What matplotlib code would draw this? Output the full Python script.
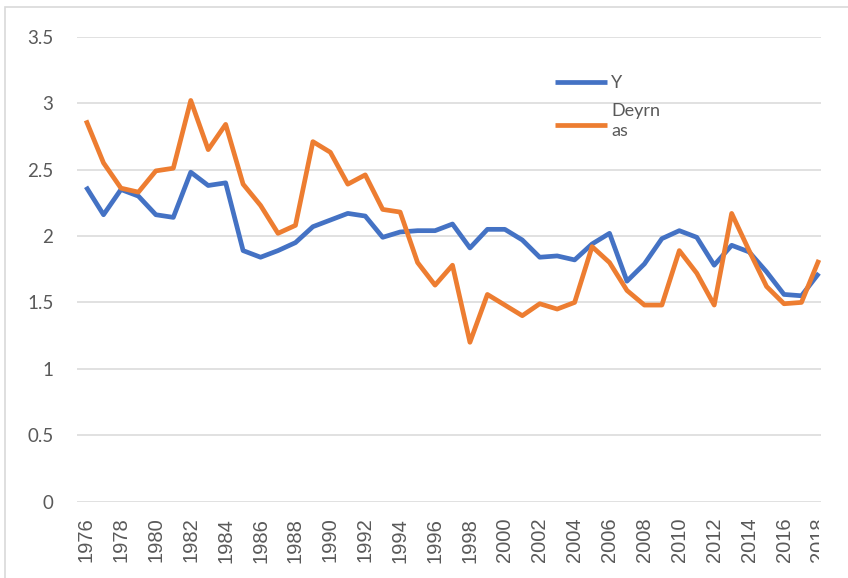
import matplotlib
matplotlib.use("Agg")
import matplotlib.pyplot as plt
import numpy as np
from matplotlib.patches import Rectangle
from matplotlib.transforms import Bbox, TransformedBbox
from matplotlib.legend_handler import HandlerLine2D

# data
years = list(range(1976, 2019))
y_vals = [2.37, 2.16, 2.35, 2.30, 2.16, 2.14, 2.48, 2.38, 2.40, 1.89,
          1.84, 1.89, 1.95, 2.07, 2.12, 2.17, 2.15, 1.99, 2.03, 2.04,
          2.04, 2.09, 1.91, 2.05, 2.05, 1.97, 1.84, 1.85, 1.82, 1.94,
          2.02, 1.66, 1.79, 1.98, 2.04, 1.99, 1.78, 1.93, 1.88, 1.73,
          1.56, 1.55, 1.72]
deyrnas_vals = [2.87, 2.55, 2.36, 2.33, 2.49, 2.51, 3.02, 2.65, 2.84, 2.39,
                2.23, 2.02, 2.08, 2.71, 2.63, 2.39, 2.46, 2.20, 2.18, 1.80,
                1.63, 1.78, 1.20, 1.56, 1.48, 1.40, 1.49, 1.45, 1.50, 1.92,
                1.80, 1.59, 1.48, 1.48, 1.89, 1.72, 1.48, 2.17, 1.89, 1.62,
                1.49, 1.50, 1.82]
series_names = ["Y", "Deyrn\nas"]
x_ticks = list(range(1976, 2019, 2))
y_ticks = [0, 0.5, 1, 1.5, 2, 2.5, 3, 3.5]


class ShiftedLine(HandlerLine2D):
    # legend line moved down a bit (wrapped label sits lower in the original)
    def __init__(self, dy, **kw):
        super().__init__(**kw)
        self.dy = dy

    def create_artists(self, *args, **kw):
        artists = super().create_artists(*args, **kw)
        for a in artists:
            a.set_ydata(np.asarray(a.get_ydata()) - self.dy)
        return artists


W, H = 848, 578
fig = plt.figure(figsize=(W / 100, H / 100), dpi=100)
ax = fig.add_axes([77 / W, 1 - 501.7 / H, (821 - 77) / W, (501.7 - 36.7) / H])

# outer chart border (only top/left visible)
fig.add_artist(Rectangle((4.5 / W, -0.1), 2, 1 - 6.5 / H + 0.1, transform=fig.transFigure,
                         fill=False, edgecolor="#D9D9D9", linewidth=1.2))

l1, = ax.plot(years, y_vals, color="#4472C4", linewidth=3.4, solid_joinstyle="round",
              solid_capstyle="butt", label=series_names[0])
l2, = ax.plot(years, deyrnas_vals, color="#ED7D31", linewidth=3.4, solid_joinstyle="round",
              solid_capstyle="butt", label=series_names[1])

ax.set_xlim(1975.48, 2018.12)
ax.set_ylim(0, 3.5)
ax.set_yticks(y_ticks)
ax.set_yticklabels(["0", "0.5", "1", "1.5", "2", "2.5", "3", "3.5"],
                   fontfamily="Lato", fontsize=13.5, color="#595959")
ax.set_xticks(x_ticks)
ax.set_xticklabels([str(x) for x in x_ticks], rotation=90, fontfamily="Liberation Sans",
                   fontsize=14.5, color="#595959")
ax.tick_params(axis="y", length=0, pad=17)
ax.tick_params(axis="x", length=0, pad=11.5)

ax.grid(axis="y", color="#D9D9D9", linewidth=1.1)
ax.set_axisbelow(True)
for s in ax.spines.values():
    s.set_visible(False)

# last label is cut at the chart edge in the original
last = ax.get_xticklabels()[-1]
last.set_clip_on(True)
last.set_clip_box(TransformedBbox(Bbox([[0, 0], [819 / W, 1]]), fig.transFigure))

leg = ax.legend(handles=[l1, l2], loc="upper left", bbox_to_anchor=(555 / W, 1 - 75 / H),
                bbox_transform=fig.transFigure, frameon=False, borderpad=0,
                borderaxespad=0, handlelength=2.9, handletextpad=0.2,
                labelspacing=0.65, prop={"family": "Lato", "size": 13},
                handler_map={l2: ShiftedLine(3)})
for t in leg.get_texts():
    t.set_color("#595959")
    t.set_linespacing(1.35)

fig.savefig("out.png", dpi=100, facecolor="white")
